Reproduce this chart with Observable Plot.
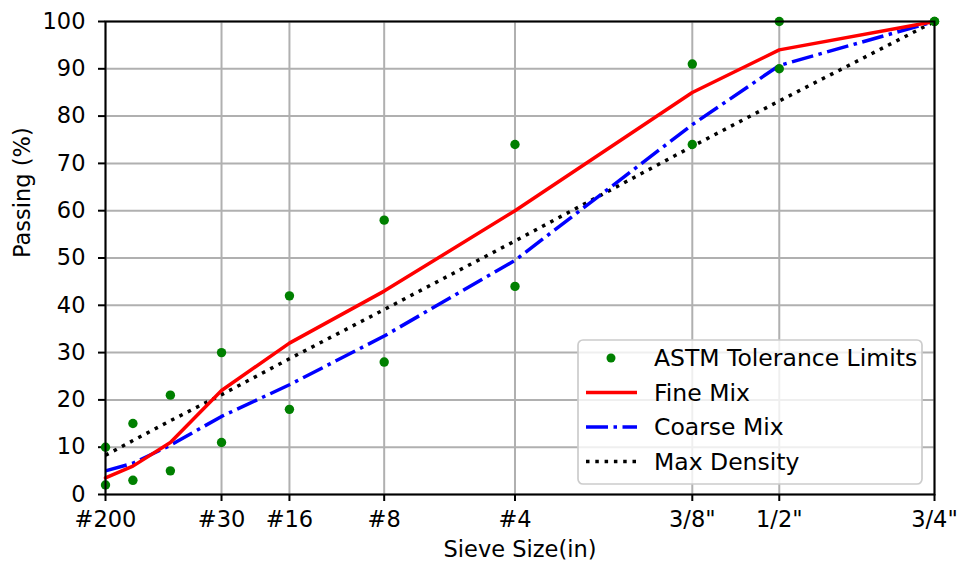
<!DOCTYPE html>
<html>
<head>
<meta charset="utf-8">
<script src="https://cdn.jsdelivr.net/npm/d3@7"></script>
<script src="https://cdn.jsdelivr.net/npm/@observablehq/plot@0.6"></script>
<style>
  html, body { margin: 0; padding: 0; background: #fff; }
  svg { display: block; }
</style>
</head>
<body>
<div id="chart"></div>
<script>
// Sieve sizes (mm) and labels
const sieveLabels = ["#200", "#100", "#50", "#30", "#16", "#8", "#4", "3/8\"", "1/2\"", "3/4\""];
const sieveMM = [0.075, 0.15, 0.3, 0.6, 1.18, 2.36, 4.75, 9.5, 12.5, 19];
const tickSieves = [0.075, 0.6, 1.18, 2.36, 4.75, 9.5, 12.5, 19];
const tickLabels = ["#200", "#30", "#16", "#8", "#4", "3/8\"", "1/2\"", "3/4\""];
const yTicks = [0, 10, 20, 30, 40, 50, 60, 70, 80, 90, 100];

// Percent passing
const fineMix = [3.5, 6, 11, 22, 32, 43, 60, 85, 94, 100];
const coarseMix = [5, 6.6, 10.4, 16.5, 23.2, 33.5, 49.5, 78.2, 90.7, 100];
const maxDensity = [8.3, 11.4, 15.6, 21.1, 28.7, 39.1, 53.6, 73.6, 83.2, 100];
const toleranceLow = [2, 3, 5, 11, 18, 28, 44, 74, 90, 100];
const toleranceHigh = [10, 15, 21, 30, 42, 58, 74, 91, 100, 100];

const series = (vals) => sieveMM.map((d, i) => ({size: d, pass: vals[i]}));
const tolerance = [...series(toleranceLow), ...series(toleranceHigh)];

const W = 958, H = 562;
const ml = 105, mr = 24, mt = 21, mb = 68;
const FS = 22.5;
const LW = 3.5;
const DASHDOT = "22,5.5,3.5,5.5";
const DOTTED = "3.5,5.8";

const plot = Plot.plot({
  width: W, height: H,
  marginLeft: ml, marginRight: mr, marginTop: mt, marginBottom: mb,
  style: {fontFamily: "DejaVu Sans", fontSize: FS + "px", color: "black", background: "white"},
  x: {type: "pow", exponent: 0.45, domain: [0.075, 19], range: [ml, W - mr]},
  y: {domain: [0, 100]},
  marks: [
    Plot.gridX(tickSieves, {stroke: "#b0b0b0", strokeOpacity: 1, strokeWidth: 2}),
    Plot.gridY(yTicks, {stroke: "#b0b0b0", strokeOpacity: 1, strokeWidth: 2}),
    Plot.axisX(tickSieves, {tickFormat: (d) => tickLabels[tickSieves.indexOf(d)], tickSize: 7, tickPadding: 10, strokeWidth: 2, label: null, fontSize: FS}),
    Plot.axisY(yTicks, {tickSize: 7, tickPadding: 13, strokeWidth: 2, label: null, fontSize: FS}),
    Plot.line(series(maxDensity), {x: "size", y: "pass", stroke: "black", strokeWidth: LW, strokeDasharray: DOTTED, strokeLinecap: "butt"}),
    Plot.line(series(coarseMix), {x: "size", y: "pass", stroke: "blue", strokeWidth: LW, strokeDasharray: DASHDOT, strokeLinecap: "butt"}),
    Plot.line(series(fineMix), {x: "size", y: "pass", stroke: "red", strokeWidth: LW}),
    Plot.dot(tolerance, {x: "size", y: "pass", r: 4.7, fill: "green", stroke: null}),
    Plot.frame({stroke: "black", strokeWidth: 2}),
    Plot.text(["Sieve Size(in)"], {frameAnchor: "bottom", dy: 62, fontSize: FS, fill: "black"}),
    Plot.text(["Passing (%)"], {frameAnchor: "left", dx: -83, rotate: -90, fontSize: FS, fill: "black"})
  ]
});
document.getElementById("chart").appendChild(plot);

// Legend (matplotlib-style, lower right inside axes)
const svg = d3.select(plot);
const lx = 578, ly = 340, lw = 344, lh = 144;
const LFS = 23.5;
const g = svg.append("g").attr("font-family", "DejaVu Sans").attr("font-size", LFS).attr("text-anchor", "start");
g.append("rect").attr("x", lx).attr("y", ly).attr("width", lw).attr("height", lh)
  .attr("rx", 5).attr("fill", "white").attr("fill-opacity", 0.8)
  .attr("stroke", "#cccccc").attr("stroke-width", 1.7);
const entries = [
  {label: "ASTM Tolerance Limits", type: "dot"},
  {label: "Fine Mix", type: "line", stroke: "red", dash: null},
  {label: "Coarse Mix", type: "line", stroke: "blue", dash: DASHDOT},
  {label: "Max Density", type: "line", stroke: "black", dash: DOTTED}
];
entries.forEach((e, i) => {
  const cy = 358 + i * 34.5;
  if (e.type === "dot") {
    g.append("circle").attr("cx", 611).attr("cy", cy).attr("r", 4.5).attr("fill", "green");
  } else {
    const l = g.append("line").attr("x1", 586).attr("x2", 637).attr("y1", cy).attr("y2", cy)
      .attr("stroke", e.stroke).attr("stroke-width", LW).attr("stroke-linecap", "butt");
    if (e.dash) l.attr("stroke-dasharray", e.dash);
  }
  g.append("text").attr("x", 654).attr("y", cy).attr("dy", "0.36em").attr("fill", "black")
    .attr("text-anchor", "start").style("font-size", LFS + "px").text(e.label);
});
</script>
</body>
</html>
